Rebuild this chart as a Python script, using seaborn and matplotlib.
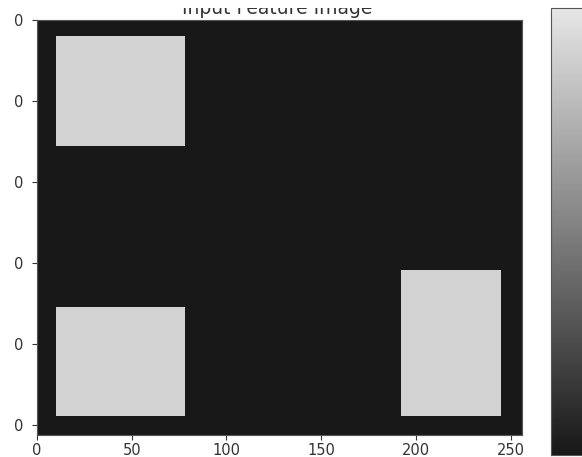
import numpy as np
import matplotlib
matplotlib.use("Agg")
import matplotlib.pyplot as plt
from matplotlib.colors import LinearSegmentedColormap
from matplotlib.transforms import Bbox
import seaborn as sns

# image size and the bright rectangles (row_start, row_end, col_start, col_end)
IMG_SIZE = 256
RECT_ROWS = [(10, 78), (177, 244), (154, 244)]
RECT_COLS = [(10, 78), (10, 78), (192, 245)]
BACKGROUND_VALUE = 0.0
RECT_VALUE = 0.9
TICK_POS = [0, 50, 100, 150, 200, 250]
X_TICK_LABELS = ["0", "50", "100", "150", "200", "250"]
Y_TICK_LABELS = ["0", "0", "0", "0", "0", "0"]
TITLE = "Input Feature Image"

img = np.full((IMG_SIZE, IMG_SIZE), BACKGROUND_VALUE)
for (r0, r1), (c0, c1) in zip(RECT_ROWS, RECT_COLS):
    img[r0:r1, c0:c1] = RECT_VALUE

cmap = LinearSegmentedColormap.from_list("soft_gray", ["#181818", "#e6e6e6"])

fig = plt.figure(figsize=(5.82, 4.57), dpi=100)
ax = fig.add_axes([0.0636, 0.0481, 0.8333, 0.908])
cax = fig.add_axes([0.9467, 0.0044, 0.08, 0.978])

sns.heatmap(img, ax=ax, cbar_ax=cax, cmap=cmap, vmin=0, vmax=1,
            xticklabels=False, yticklabels=False, rasterized=True)

ax.set_xticks(TICK_POS)
ax.set_xticklabels(X_TICK_LABELS, rotation=0)
ax.set_yticks(TICK_POS)
ax.set_yticklabels(Y_TICK_LABELS, rotation=0)
ax.tick_params(axis="both", length=3.5, width=0.8, labelsize=10.5,
               colors="#333333")
ax.tick_params(axis="x", pad=2.5)
ax.tick_params(axis="y", pad=6)
for s in ax.spines.values():
    s.set_visible(True)
    s.set_color("#555555")
    s.set_linewidth(0.8)

cax.tick_params(length=0, labelright=False)
cb = ax.collections[0].colorbar
cb.outline.set_linewidth(0.8)
cb.outline.set_edgecolor("#555555")

# the reference is cropped: only the lower part of the title shows
title = fig.text(277.5 / 582, 1 - 14 / 457, TITLE, ha="center", va="baseline",
                 fontsize=13.5, color="#333333")
title.set_clip_box(Bbox.from_extents(0, 0, 582, 457 - 8))
title.set_clip_on(True)

fig.savefig("out.png", dpi=100)
